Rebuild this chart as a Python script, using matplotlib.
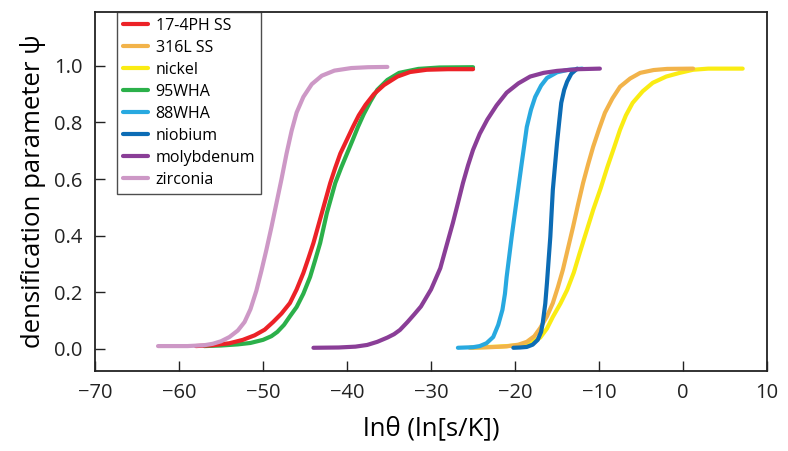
import matplotlib
matplotlib.use("Agg")
import matplotlib.pyplot as plt

plt.rcParams['font.family'] = ['Open Sans', 'DejaVu Sans']

# --- data (x = ln theta, y = psi) ---
ph17_x = [-58.0, -56.0, -54.0, -52.4, -51.0, -49.8, -48.8, -47.8, -46.8, -46.0, -45.2,
          -44.6, -44.0, -43.5, -43.0, -42.5, -42.0, -41.4, -40.8, -40.0, -39.3, -38.6,
          -37.8, -36.8, -35.6, -34.0, -32.5, -30.5, -28.0, -25.0]
ph17_y = [0.010, 0.013, 0.020, 0.032, 0.048, 0.068, 0.095, 0.125, 0.162, 0.210, 0.268,
          0.320, 0.374, 0.427, 0.480, 0.533, 0.586, 0.640, 0.690, 0.740, 0.784, 0.825,
          0.862, 0.900, 0.932, 0.962, 0.978, 0.986, 0.988, 0.988]

ss316_x = [-25.4, -23.0, -21.0, -19.6, -18.6, -17.7, -17.0, -16.2, -15.5, -14.9, -14.3,
           -13.7, -13.1, -12.5, -11.9, -11.3, -10.7, -10.0, -9.3, -8.4, -7.5, -6.3,
           -5.1, -3.5, -1.9, 1.2]
ss316_y = [0.004, 0.006, 0.009, 0.015, 0.025, 0.045, 0.074, 0.115, 0.162, 0.218, 0.280,
           0.355, 0.430, 0.510, 0.586, 0.652, 0.714, 0.776, 0.834, 0.885, 0.926, 0.955,
           0.975, 0.985, 0.989, 0.990]

nickel_x = [-25.2, -22.0, -19.0, -18.0, -17.0, -16.2, -15.5, -14.6, -13.8, -13.0, -12.3,
            -11.5, -10.7, -9.8, -9.0, -8.2, -7.5, -6.8, -6.0, -4.8, -3.6, -2.0, -0.4,
            1.2, 3.0, 7.1]
nickel_y = [0.005, 0.008, 0.014, 0.025, 0.040, 0.072, 0.113, 0.160, 0.208, 0.270, 0.339,
            0.415, 0.491, 0.568, 0.643, 0.712, 0.774, 0.825, 0.869, 0.910, 0.940, 0.962,
            0.975, 0.986, 0.990, 0.990]

wha95_x = [-57.0, -55.0, -53.0, -51.5, -50.0, -49.0, -48.3, -47.5, -46.8, -46.0, -45.2,
           -44.4, -43.8, -43.2, -42.8, -42.4, -41.9, -41.4, -40.7, -40.0, -39.3, -38.7,
           -38.0, -37.2, -36.4, -35.2, -33.8, -31.5, -29.0, -25.0]
wha95_y = [0.010, 0.012, 0.016, 0.021, 0.032, 0.045, 0.060, 0.085, 0.115, 0.148, 0.195,
           0.254, 0.313, 0.374, 0.427, 0.480, 0.533, 0.586, 0.640, 0.690, 0.740, 0.784,
           0.830, 0.875, 0.915, 0.950, 0.975, 0.989, 0.994, 0.995]

wha88_x = [-26.8, -25.0, -24.2, -23.4, -22.6, -22.0, -21.5, -21.2, -21.0, -20.7, -20.4,
           -20.1, -19.8, -19.5, -19.2, -18.9, -18.6, -18.1, -17.6, -16.9, -16.2, -15.0,
           -13.8, -12.0]
wha88_y = [0.004, 0.006, 0.010, 0.020, 0.042, 0.085, 0.138, 0.195, 0.254, 0.325, 0.396,
           0.462, 0.527, 0.592, 0.657, 0.720, 0.784, 0.845, 0.890, 0.930, 0.957, 0.977,
           0.985, 0.990]

niobium_x = [-20.2, -19.4, -18.6, -17.9, -17.3, -16.9, -16.7, -16.4, -16.2, -16.0, -15.8,
             -15.65, -15.5, -15.25, -15.0, -14.75, -14.5, -14.15, -13.8, -13.3, -12.6]
niobium_y = [0.004, 0.005, 0.007, 0.015, 0.032, 0.060, 0.092, 0.160, 0.233, 0.315, 0.396,
             0.480, 0.562, 0.645, 0.728, 0.800, 0.869, 0.915, 0.944, 0.972, 0.990]

moly_x = [-44.0, -41.0, -39.0, -37.6, -36.4, -35.2, -34.4, -33.7, -32.8, -32.0, -31.2,
          -30.0, -28.9, -28.2, -27.4, -26.8, -26.2, -25.6, -25.0, -24.2, -23.3, -22.2,
          -21.0, -19.6, -18.2, -16.6, -15.0, -12.5, -9.9]
moly_y = [0.004, 0.005, 0.008, 0.014, 0.025, 0.040, 0.052, 0.067, 0.095, 0.122, 0.150,
          0.210, 0.285, 0.360, 0.445, 0.515, 0.586, 0.648, 0.703, 0.760, 0.810, 0.860,
          0.905, 0.938, 0.962, 0.975, 0.982, 0.988, 0.990]

zirc_x = [-62.5, -59.0, -57.0, -56.0, -55.0, -54.0, -53.0, -52.2, -51.5, -50.8, -50.2,
          -49.6, -49.0, -48.4, -47.8, -47.2, -46.6, -46.0, -45.2, -44.2, -43.0, -41.5,
          -39.5, -37.5, -35.2]
zirc_y = [0.010, 0.010, 0.013, 0.018, 0.027, 0.042, 0.065, 0.095, 0.140, 0.205, 0.275,
          0.350, 0.430, 0.515, 0.600, 0.690, 0.770, 0.835, 0.890, 0.935, 0.965, 0.983,
          0.992, 0.995, 0.996]

series = [
    ('nickel', nickel_x, nickel_y, '#FAEC13'),
    ('316L SS', ss316_x, ss316_y, '#F2B34A'),
    ('95WHA', wha95_x, wha95_y, '#2BB04A'),
    ('17-4PH SS', ph17_x, ph17_y, '#EC2227'),
    ('zirconia', zirc_x, zirc_y, '#CD98C6'),
    ('88WHA', wha88_x, wha88_y, '#28A9E0'),
    ('niobium', niobium_x, niobium_y, '#0C6CB5'),
    ('molybdenum', moly_x, moly_y, '#8A3E97'),
]
legend_order = ['17-4PH SS', '316L SS', 'nickel', '95WHA', '88WHA', 'niobium',
                'molybdenum', 'zirconia']

fig = plt.figure(figsize=(7.88, 4.51), dpi=100)
ax = fig.add_axes([0.1206, 0.1774, 0.8528, 0.796])

handles = {}
for name, xs, ys, col in series:
    line, = ax.plot(xs, ys, color=col, linewidth=3.0, solid_capstyle='round',
                    solid_joinstyle='round', label=name)
    handles[name] = line

ax.set_xlim(-70, 10)
ax.set_ylim(-0.078, 1.19)
ax.set_xticks(range(-70, 11, 10))
ax.set_yticks([0.0, 0.2, 0.4, 0.6, 0.8, 1.0])
ax.set_yticklabels(['0.0', '0.2', '0.4', '0.6', '0.8', '1.0'])
ax.tick_params(direction='in', length=7, width=1, labelsize=14.5, pad=9, colors='#222222')
for sp in ax.spines.values():
    sp.set_linewidth(1.3)
    sp.set_color('#222222')

ax.set_xlabel('lnθ (ln[s/K])', fontsize=18.5, labelpad=9)
ax.set_ylabel('densification parameter ψ', fontsize=18.5, labelpad=6)

leg = ax.legend([handles[n] for n in legend_order], legend_order,
                loc='upper left', bbox_to_anchor=(0.033, 1.0), fontsize=11.5,
                frameon=True, fancybox=False, handlelength=1.6, handletextpad=0.45,
                labelspacing=0.38, borderpad=0.35, borderaxespad=0.0)
leg.get_frame().set_edgecolor('#222222')
leg.get_frame().set_linewidth(1.0)

fig.savefig('out.png', dpi=100)
